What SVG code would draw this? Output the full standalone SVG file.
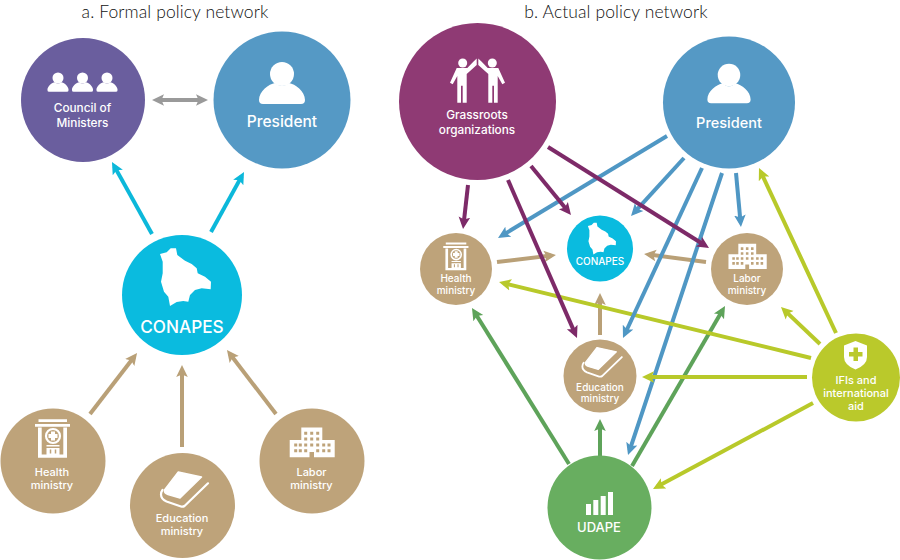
<svg xmlns="http://www.w3.org/2000/svg" xmlns:xlink="http://www.w3.org/1999/xlink" width="900" height="560" viewBox="0 0 900 560">
<style>
text{font-family:Inter,"Open Sans","Liberation Sans",sans-serif;font-weight:500;fill:#fff;text-anchor:middle}
.title{font-family:Lato,"Liberation Sans",sans-serif;font-weight:300;fill:#111;font-size:17.500px;letter-spacing:.1px}
.l{fill:none;stroke-width:4}
.cy{stroke:#0cb8da}.ta{stroke:#b9a077}.pu{stroke:#7d2a68}.bl{stroke:#4f97c4}.gr{stroke:#5ea35a}.li{stroke:#b8c92a}.ga{stroke:#9a9a9a}
.s11{font-size:11px}.s10{font-size:10px}.s12{font-size:11.800px}.s105{font-size:11px}
</style>
<defs>
<marker id="mcy" markerUnits="userSpaceOnUse" markerWidth="14" markerHeight="14" refX="7" refY="7" orient="auto-start-reverse"><path d="M12,7L0,1.200L2.500,7L0,12.800Z" fill="#0cb8da"/></marker>
<marker id="mta" markerUnits="userSpaceOnUse" markerWidth="14" markerHeight="14" refX="7" refY="7" orient="auto-start-reverse"><path d="M12,7L0,1.200L2.500,7L0,12.800Z" fill="#b9a077"/></marker>
<marker id="mpu" markerUnits="userSpaceOnUse" markerWidth="14" markerHeight="14" refX="7" refY="7" orient="auto-start-reverse"><path d="M12,7L0,1.200L2.500,7L0,12.800Z" fill="#7d2a68"/></marker>
<marker id="mbl" markerUnits="userSpaceOnUse" markerWidth="14" markerHeight="14" refX="7" refY="7" orient="auto-start-reverse"><path d="M12,7L0,1.200L2.500,7L0,12.800Z" fill="#4f97c4"/></marker>
<marker id="mgr" markerUnits="userSpaceOnUse" markerWidth="14" markerHeight="14" refX="7" refY="7" orient="auto-start-reverse"><path d="M12,7L0,1.200L2.500,7L0,12.800Z" fill="#5ea35a"/></marker>
<marker id="mli" markerUnits="userSpaceOnUse" markerWidth="14" markerHeight="14" refX="7" refY="7" orient="auto-start-reverse"><path d="M12,7L0,1.200L2.500,7L0,12.800Z" fill="#b8c92a"/></marker>
<marker id="mga" markerUnits="userSpaceOnUse" markerWidth="14" markerHeight="14" refX="7" refY="7" orient="auto-start-reverse"><path d="M12,7L0,1.200L2.500,7L0,12.800Z" fill="#9a9a9a"/></marker>
<g id="person" fill="#fff"><circle r="12"/><path d="M-19,30Q-23,30-23,26C-23,17-13,10-7,9Q0,15 7,9C13,10 23,17 23,26Q23,30 19,30Z"/></g>
<path id="bolivia" fill="#fff" d="M-22,-41L-15.300,-42.700L-11.300,-46.700L-6,-46.700L-4.700,-40L3,-34.300L9.700,-31L14.700,-26.700L15.700,-21.700L23,-18.300L29,-13.300L28.700,-5.700L19.700,-6.700L13,-5L8,0L6.300,6.700L1.300,6L-5.300,7L-12,11L-13.700,1.700L-18,-3.300L-21,-13.300L-19.300,-21.700L-19.300,-33.300Z"/>
<g id="health"><path fill="#fff" d="M-13.500,-18.700H15V-16H-13.500ZM-17,-14H18V-11.200H-17ZM-14,-10.500H-10.300V16.500H11.300V-10.500H15V19.700H-14Z"/><circle cx="1" cy="-2" r="7" fill="none" stroke="#fff" stroke-width="2.200"/><path fill="#fff" d="M-1,-6.500H3V-4H5.500V0H3V2.500H-1V0H-3.500V-4H-1ZM-5.500,7H7.500V8.500H-5.500ZM-5.500,10H7.500V17H-5.500Z"/><path fill="none" stroke="#bea37a" stroke-width="1.500" d="M-1.500,11.500V15.500M3.500,11.500V15.500"/></g>
<g id="book"><path fill="#fff" stroke="#fff" stroke-width="1.500" stroke-linejoin="round" d="M-3.700,-16L19.500,-11L-2,10L-14,6.500Q-18,5-17.500,2Z"/><path fill="none" stroke="#fff" stroke-width="2.200" stroke-linecap="round" stroke-linejoin="round" d="M26,-4.700L2.500,18Q1,19-1,18.500L-15.500,13.500Q-21,11-21,6.500Q-21,4-19.500,2"/></g>
<g id="labor"><path fill="#fff" d="M-10.200,-14.500H10.800V-2H23.200V15.300H2.500V10H-2V15.300H-21.800V-2H-10.200Z"/><path fill="#bea37a" d="M-7.300,-10.200h3v3h-3zM-1.300,-10.200h3v3h-3zM4.700,-10.200h3v3h-3zM-7.300,-4.500h3v3h-3zM-1.300,-4.500h3v3h-3zM4.700,-4.500h3v3h-3zM-17.300,1.500h3v3h-3zM-12.700,1.500h3v3h-3zM-7.300,1.500h3v3h-3zM-1.300,1.500h3v3h-3zM4.700,1.500h3v3h-3zM10.700,1.500h3v3h-3zM16,1.500h3v3h-3zM-17.300,7.200h3v3h-3zM-12.700,7.200h3v3h-3zM-7.300,7.200h3v3h-3zM4.700,7.200h3v3h-3zM10.700,7.200h3v3h-3zM16,7.200h3v3h-3z"/></g>
<g id="half" fill="#fff"><circle cx="-14.800" cy="-29" r="4.500"/><path d="M-20.800,-24H-10.200L-4.200,-30.300L-.8,-33.500L-.8,-27L-10.800,-18V10.700H-14.800V-6.300H-16.500V10.700H-20.200V-16L-24.800,-7.700L-27.500,-9.300Z"/></g>
</defs>
<text class="title" x="175" y="17.500">a. Formal policy network</text>
<text class="title" x="616" y="17.500">b. Actual policy network</text>
<g id="connectors">
<line class="l ga" x1="157" y1="100" x2="203" y2="100" marker-start="url(#mga)" marker-end="url(#mga)"/>
<line class="l cy" x1="152" y1="234" x2="114.400" y2="166.400" marker-end="url(#mcy)"/>
<line class="l cy" x1="211" y1="232" x2="241.600" y2="176.400" marker-end="url(#mcy)"/>
<line class="l ta" x1="90" y1="414" x2="134" y2="357" marker-end="url(#mta)"/>
<line class="l ta" x1="182" y1="447" x2="182" y2="370" marker-end="url(#mta)"/>
<line class="l ta" x1="276" y1="414" x2="230" y2="354" marker-end="url(#mta)"/>
<line class="l ta" x1="497" y1="262" x2="551" y2="255.600" marker-end="url(#mta)"/>
<line class="l ta" x1="706" y1="262" x2="649" y2="254.600" marker-end="url(#mta)"/>
<line class="l ta" x1="600" y1="335" x2="600" y2="298" marker-end="url(#mta)"/>
<line class="l gr" x1="569" y1="464" x2="474.600" y2="312.200" marker-end="url(#mgr)"/>
<line class="l gr" x1="600" y1="456" x2="600" y2="424" marker-end="url(#mgr)"/>
<line class="l bl" x1="722" y1="173" x2="629.600" y2="450.300" marker-end="url(#mbl)"/>
<line class="l gr" x1="632" y1="466" x2="722.500" y2="310.300" marker-end="url(#mgr)"/>
<line class="l li" x1="836" y1="333" x2="761.100" y2="172.500" marker-end="url(#mli)"/>
<line class="l li" x1="820" y1="344" x2="784.600" y2="310.400" marker-end="url(#mli)"/>
<line class="l li" x1="811" y1="358" x2="503.900" y2="283.200" marker-end="url(#mli)"/>
<line class="l li" x1="807" y1="377" x2="647" y2="377" marker-end="url(#mli)"/>
<line class="l li" x1="813" y1="403" x2="657.400" y2="486.600" marker-end="url(#mli)"/>
<line class="l bl" x1="667" y1="136" x2="502.300" y2="235.400" marker-end="url(#mbl)"/>
<line class="l bl" x1="684" y1="158" x2="634.400" y2="212.300" marker-end="url(#mbl)"/>
<line class="l bl" x1="702" y1="168" x2="625.100" y2="333.500" marker-end="url(#mbl)"/>
<line class="l bl" x1="736" y1="173" x2="740.500" y2="222" marker-end="url(#mbl)"/>
<line class="l pu" x1="468" y1="185" x2="463.600" y2="224" marker-end="url(#mpu)"/>
<line class="l pu" x1="508" y1="180" x2="575" y2="333.400" marker-end="url(#mpu)"/>
<line class="l pu" x1="531" y1="166" x2="567.800" y2="211.100" marker-end="url(#mpu)"/>
<line class="l pu" x1="548" y1="147" x2="704.800" y2="245.300" marker-end="url(#mpu)"/>
</g>
<g id="a-council"><circle cx="83" cy="100" r="62" fill="#6a5e9e"/><use href="#person" transform="translate(58 78) scale(.46)"/><use href="#person" transform="translate(82.500 78) scale(.46)"/><use href="#person" transform="translate(107 78) scale(.46)"/><text class="s12" x="82.500" y="112">Council of</text><text class="s12" x="82.500" y="127">Ministers</text></g>
<g id="a-president"><circle cx="282" cy="100" r="68.500" fill="#5599c5"/><use href="#person" x="282" y="74"/><text x="282" y="127" font-size="15.500">President</text></g>
<g id="a-conapes"><circle cx="182" cy="295" r="60" fill="#0abbdf"/><use href="#bolivia" x="182" y="295"/><text x="182" y="333" font-size="17.200">CONAPES</text></g>
<g id="a-health"><circle cx="53" cy="461" r="52.500" fill="#bea37a"/><use href="#health" x="52" y="438"/><text class="s11" x="52" y="476">Health</text><text class="s11" x="52" y="489">ministry</text></g>
<g id="a-education"><circle cx="182.500" cy="505.500" r="52.500" fill="#bea37a"/><use href="#book" x="182" y="488"/><text class="s11" x="182" y="522">Education</text><text class="s11" x="182" y="535">ministry</text></g>
<g id="a-labor"><circle cx="312" cy="461" r="52.500" fill="#bea37a"/><use href="#labor" x="311.500" y="442"/><text class="s11" x="311.500" y="476">Labor</text><text class="s11" x="311.500" y="489">ministry</text></g>
<g id="b-grassroots"><circle cx="477.500" cy="101.500" r="78.500" fill="#8f3a74"/><use href="#half" x="477.500" y="92"/><use href="#half" transform="translate(477.500 92) scale(-1 1)"/><text class="s12" x="477" y="119">Grassroots</text><text class="s12" x="477" y="134">organizations</text></g>
<g id="b-president"><circle cx="729" cy="102.500" r="66" fill="#5599c5"/><use href="#person" transform="translate(729 75) scale(.94)"/><text x="729" y="128" font-size="14.500">President</text></g>
<g id="b-health"><circle cx="456" cy="269" r="36" fill="#bea37a"/><use href="#health" transform="translate(455.500 256) scale(.72)"/><text class="s10" x="456" y="282">Health</text><text class="s10" x="456" y="294">ministry</text></g>
<g id="b-conapes"><circle cx="600" cy="248.500" r="33" fill="#0abbdf"/><use href="#bolivia" transform="translate(600 248.500) scale(.55)"/><text x="600" y="265" font-size="10">CONAPES</text></g>
<g id="b-labor"><circle cx="747" cy="269" r="36" fill="#bea37a"/><use href="#labor" transform="translate(747 256) scale(.85)"/><text class="s10" x="747" y="282">Labor</text><text class="s10" x="747" y="294">ministry</text></g>
<g id="b-education"><circle cx="600" cy="376" r="36.500" fill="#bea37a"/><use href="#book" transform="translate(600 361) scale(.84)"/><text class="s10" x="600" y="391">Education</text><text class="s10" x="600" y="402">ministry</text></g>
<g id="b-udape"><circle cx="599.500" cy="507.500" r="52" fill="#68ae60"/><path fill="#fff" d="M586,504h5v11h-5zM593.300,500h5v15h-5zM600.700,496h5v19h-5zM608,492h5v23h-5z"/><text x="599" y="532" font-size="13">UDAPE</text></g>
<g id="b-ifis"><circle cx="856" cy="377.500" r="44" fill="#bac92b"/><path fill="#fff" d="M855.500,341L867,345.500V357Q867,365 855.500,369.500Q844,365 844,357V345.500Z"/><path fill="#bac92b" d="M853.500,347.500h4.500v4.500h4.500v4.500h-4.500v4.500h-4.500v-4.500h-4.500v-4.500h4.500z"/><text class="s105" x="856" y="384">IFIs and</text><text class="s105" x="856" y="397">international</text><text class="s105" x="856" y="410">aid</text></g>
</svg>
